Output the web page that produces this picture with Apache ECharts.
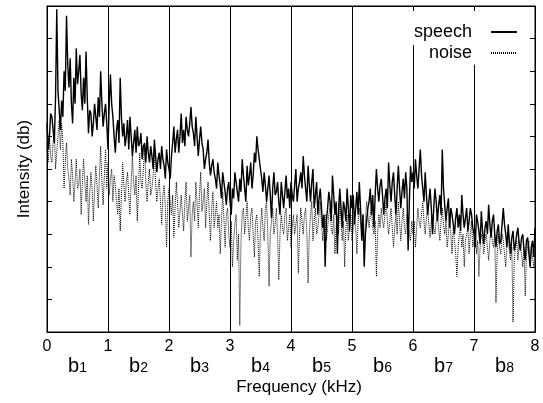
<!DOCTYPE html>
<html>
<head>
<meta charset="utf-8">
<script src="https://cdn.jsdelivr.net/npm/echarts@6/dist/echarts.min.js"></script>
<style>
    html, body { margin: 0; padding: 0; background: #fff; }
    #chart { width: 543px; height: 403px; }
</style>
</head>
<body>
<div id="chart"></div>
<script>
    var STEP = 0.02; // kHz between two samples

    // speech spectrum, one row per kHz
    var speechDb = [
        64,56,60,67,66,62,58,72,99,74,68,62,71,66,80,74,97,82,75,84,70,64,78,70,87,76,80,85,73,68,78,70,86,72,61,68,67,60,64,70,66,62,72,66,80,70,63,67,70,64,
        56,70,79,70,66,60,55,62,65,58,78,66,60,64,57,60,65,56,66,60,54,58,62,55,63,57,58,61,53,57,58,52,60,55,52,57,54,50,59,54,49,53,55,50,57,53,51,47,56,52,
        50,47,54,58,63,55,59,62,55,60,67,58,62,57,66,62,60,64,69,63,61,57,66,60,54,59,63,58,56,50,53,55,59,52,48,51,53,49,47,44,52,48,45,41,49,46,43,39,44,46,
        40,36,44,41,49,46,43,40,47,43,53,48,44,40,51,45,48,52,44,48,55,52,60,56,53,50,47,43,49,45,40,44,48,42,35,44,49,42,43,46,40,36,46,42,38,43,48,41,44,38,
        46,42,40,45,50,40,44,46,49,44,54,48,44,40,51,45,40,46,50,38,42,46,36,41,44,38,32,36,20,34,38,43,40,34,48,42,36,40,24,38,44,38,32,40,38,34,44,38,31,42,
        38,42,33,38,43,36,46,38,28,36,20,30,34,38,40,44,36,42,32,42,50,44,40,45,47,42,36,41,44,38,52,45,40,46,49,42,36,44,51,44,38,43,47,41,49,44,25,40,51,46,
        49,44,53,48,44,50,56,48,44,40,49,42,36,40,44,38,30,38,44,40,34,39,42,36,56,44,39,34,38,41,32,38,36,33,30,35,38,32,36,31,42,36,32,35,38,31,34,38,36,32,
        30,26,36,34,31,27,37,31,27,32,34,30,39,33,29,34,36,30,26,31,33,27,28,33,38,33,30,26,33,28,24,29,31,25,27,30,32,27,25,29,30,25,22,28,29,24,20,26,28,23,
        32
    ];

    // noise spectrum
    var noiseDb = [
        58,52,60,54,52,58,62,50,55,60,65,56,64,58,44,52,58,50,47,42,53,48,40,46,53,44,45,50,36,46,53,46,40,48,33,42,49,44,34,44,51,45,38,48,57,46,39,48,56,44,
        52,42,47,50,40,48,45,40,36,44,31,42,52,45,40,46,49,42,36,46,54,46,42,48,34,44,55,46,44,50,57,46,40,46,50,42,44,48,55,46,40,44,47,40,33,42,45,38,26,40,
        44,40,36,42,29,38,46,40,32,37,42,36,31,40,46,34,38,42,23,36,40,34,46,40,32,42,49,37,40,44,32,40,46,36,28,38,43,32,36,40,32,36,24,34,43,35,26,36,38,30,
        26,34,20,28,33,36,22,30,2,28,36,38,30,35,40,32,28,36,38,30,23,34,36,28,17,32,38,32,28,38,40,30,14,30,34,38,30,33,38,30,16,30,36,32,30,36,38,28,32,36,
        26,32,36,30,30,36,18,30,38,34,30,36,38,30,15,30,36,40,28,34,38,30,32,36,40,33,28,34,36,28,32,36,38,32,30,36,24,32,36,30,40,34,28,34,20,32,36,28,32,36,
        28,32,36,32,24,34,38,34,30,36,26,34,40,36,32,36,38,32,30,34,17,30,36,32,38,34,32,36,40,34,30,34,38,32,26,32,36,30,40,34,28,34,38,32,30,36,34,30,28,34,
        30,34,26,32,38,34,32,36,40,34,30,35,38,33,29,34,36,32,30,34,36,32,28,34,38,33,30,34,26,30,36,30,24,32,28,24,17,26,30,32,26,30,20,28,30,32,24,30,34,26,
        28,32,24,28,17,26,30,28,24,28,30,26,22,28,32,28,26,30,9,24,30,26,24,30,28,24,20,27,30,25,22,26,3,22,26,28,22,28,26,24,20,26,11,24,26,28,20,26,26,20,
        24
    ];

    var bandNames = ['1', '2', '3', '4', '5', '6', '7', '8'];
    var bandEdges = [1, 2, 3, 4, 5, 6, 7];
    var bandEdgeTops = [100, 100, 100, 100, 100, 88, 82]; // 6 and 7 stop under the key

    var FONT = '"Liberation Sans", Arial, sans-serif';

    function toPairs(arr) {
        var out = [];
        for (var i = 0; i < arr.length; i++) {
            out.push([+(i * STEP).toFixed(2), arr[i]]);
        }
        return out;
    }

    var edgeLines = [];
    for (var i = 0; i < bandEdges.length; i++) {
        edgeLines.push([
            {coord: [bandEdges[i], 0]},
            {coord: [bandEdges[i], bandEdgeTops[i]]}
        ]);
    }

    function blackLine() {
        return {show: true, onZero: false, lineStyle: {color: '#000', width: 1}};
    }
    function inTick() {
        return {show: true, inside: true, length: 5, lineStyle: {color: '#000', width: 1}};
    }

    var chart = echarts.init(document.getElementById('chart'), null, {renderer: 'canvas'});
    chart.setOption({
        animation: false,
        backgroundColor: '#fff',
        grid: {left: 47, right: 8, top: 6, bottom: 71, show: true, borderColor: '#000', borderWidth: 1},
        legend: {
            data: ['speech', 'noise'],
            orient: 'vertical',
            right: 20,
            top: 18,
            align: 'right',
            itemWidth: 26,
            itemHeight: 18,
            itemGap: 3,
            selectedMode: false,
            itemStyle: {opacity: 0},
            textStyle: {fontSize: 18, color: '#000', fontFamily: FONT, padding: [0, 14, 0, 0]}
        },
        xAxis: [
            {
                type: 'value', min: 0, max: 8, interval: 1, position: 'bottom',
                axisLine: blackLine(), axisTick: inTick(), splitLine: {show: false},
                axisLabel: {fontSize: 16, color: '#000', fontFamily: FONT, margin: 7},
                name: 'Frequency (kHz)', nameLocation: 'middle', nameGap: 47,
                nameTextStyle: {fontSize: 17, color: '#000', fontFamily: FONT, padding: [0, 0, 0, 16]}
            },
            {
                type: 'category', data: bandNames, position: 'bottom', boundaryGap: true,
                axisLine: {show: false}, axisTick: {show: false},
                axisLabel: {
                    margin: 24,
                    interval: 0,
                    formatter: function (v) { return '{b|b}{n|' + v + '}'; },
                    rich: {
                        b: {fontSize: 20, color: '#000', fontFamily: FONT, lineHeight: 20},
                        n: {fontSize: 14, color: '#000', fontFamily: FONT, lineHeight: 20, padding: [4, 0, 0, 0]}
                    }
                }
            },
            {
                type: 'value', min: 0, max: 8, interval: 1, position: 'top',
                axisLine: blackLine(), axisTick: inTick(), axisLabel: {show: false}, splitLine: {show: false}
            }
        ],
        yAxis: [
            {
                type: 'value', min: 0, max: 100, interval: 10, position: 'left',
                axisLine: blackLine(), axisTick: inTick(), axisLabel: {show: false}, splitLine: {show: false},
                name: 'Intensity (db)', nameLocation: 'middle', nameGap: 14, nameRotate: 90,
                nameTextStyle: {fontSize: 17, color: '#000', fontFamily: FONT}
            },
            {
                type: 'value', min: 0, max: 100, interval: 10, position: 'right',
                axisLine: blackLine(), axisTick: inTick(), axisLabel: {show: false}, splitLine: {show: false}
            }
        ],
        series: [
            {
                name: 'speech', type: 'line', xAxisIndex: 0, yAxisIndex: 0,
                data: toPairs(speechDb), symbol: 'none',
                lineStyle: {color: '#000', width: 1.4},
                itemStyle: {color: '#000'},
                markLine: {
                    silent: true, symbol: 'none', label: {show: false},
                    lineStyle: {color: '#000', width: 1, type: 'solid'},
                    data: edgeLines
                }
            },
            {
                name: 'noise', type: 'line', xAxisIndex: 0, yAxisIndex: 0,
                data: toPairs(noiseDb), symbol: 'none',
                lineStyle: {color: '#000', width: 1, type: [1, 1]},
                itemStyle: {color: '#000'}
            }
        ]
    });
</script>
</body>
</html>
